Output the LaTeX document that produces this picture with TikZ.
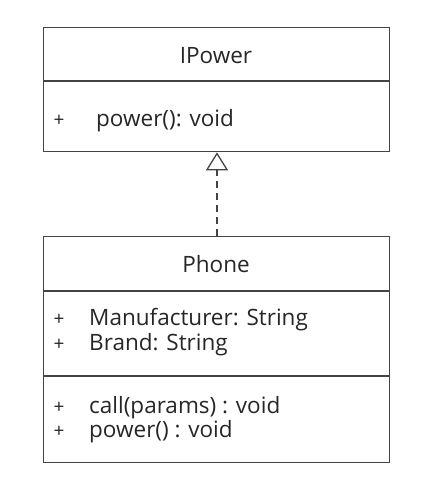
\documentclass[tikz,border=0pt]{standalone}
\usepackage{fontspec}
\setmainfont{Open Sans}
\usetikzlibrary{arrows.meta}
\definecolor{ln}{HTML}{444444}
\definecolor{tx}{HTML}{262626}
\begin{document}
\begin{tikzpicture}[x=1pt,y=-1pt,
  classbox/.style={draw=ln,line width=1.3pt,rectangle,inner sep=0pt,anchor=north west,minimum width=346pt},
  divider/.style={draw=ln,line width=1.3pt},
  title/.style={text=tx,font=\fontsize{22.5}{25}\selectfont,anchor=base},
  member/.style={text=tx,font=\fontsize{22.5}{25}\selectfont,anchor=base west,inner sep=0pt},
  plus/.style={text=tx,font=\fontsize{19}{22}\selectfont,anchor=base,inner sep=0pt}]
\useasboundingbox (0,0) rectangle (433,489);
% IPower
\node[classbox,minimum height=124pt] (ip) at (43,27) {};
\draw[divider] (43,81) -- (389,81);
\node[title] (ipt) at (216,64) {IPower};
\node[plus] (ipp1) at (59,127) {+};
\node[member] (ipm1) at (96,127) {power(): void};
% Phone
\node[classbox,minimum height=226pt] (ph) at (43,236) {};
\draw[divider] (43,291) -- (389,291);
\draw[divider] (43,376) -- (389,376);
\node[title] (pht) at (216,272) {Phone};
\node[plus] (pp1) at (59,325) {+};
\node[member] (pa1) at (89,325) {Manufacturer: String};
\node[plus] (pp2) at (59,350) {+};
\node[member] (pa2) at (89,350) {Brand: String};
\node[plus] (pp3) at (59,413) {+};
\node[member] (pm1) at (89,413) {call(params) : void};
\node[plus] (pp4) at (59,437) {+};
\node[member] (pm2) at (89,437) {power() : void};
% realization
\draw[draw=ln,line width=1.3pt,dash pattern=on 7pt off 5pt,
  -{Triangle[open,width=22pt,length=18pt,line width=1.3pt]}]
  (ph.north-|217,0) -- (ip.south-|217,0);
\end{tikzpicture}
\end{document}
